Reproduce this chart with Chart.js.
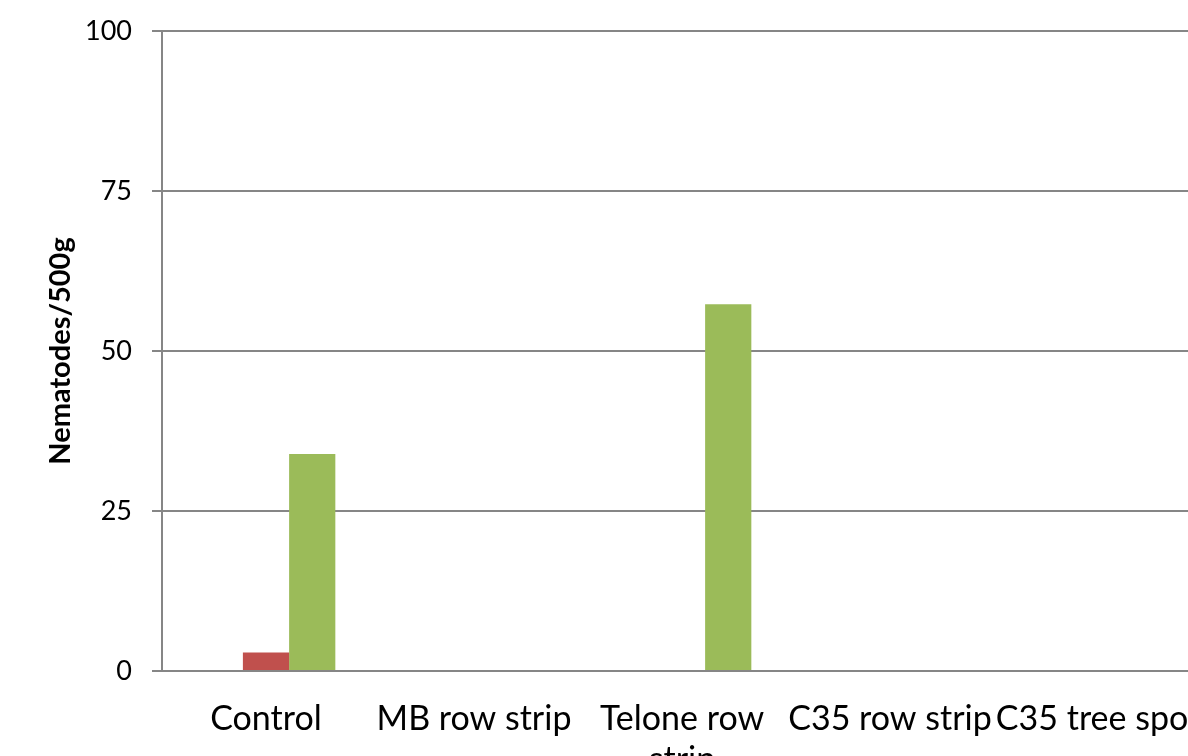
<!DOCTYPE html>
<html>
<head>
<meta charset="utf-8">
<script src="https://cdn.jsdelivr.net/npm/chart.js@4/dist/chart.umd.min.js"></script>
<style>
  html, body { margin: 0; padding: 0; background: #fff; overflow: hidden; }
  #wrap { width: 1202px; height: 756px; }
</style>
</head>
<body>
<div id="wrap"><canvas id="chart" width="1202" height="756"></canvas></div>
<script>
// Treatments along the x axis (multi-line entries wrap onto two rows)
const categories = ['Control', 'MB row strip', ['Telone row', 'strip'], 'C35 row strip', 'C35 tree spot'];

// Nematode counts per 500 g of soil, one array per series
const series1 = [0, 0, 0, 0, 0];
const series2 = [2.9, 0, 0, 0, 0];
const series3 = [33.9, 0, 57.3, 0, 0];

// Value axis
const yMin = 0;
const yMax = 100;
const yStep = 25;
const yTitle = 'Nematodes/500g';

const gridColor = '#868686';
const fontFamily = 'Lato, "Open Sans", sans-serif';

new Chart(document.getElementById('chart'), {
  type: 'bar',
  data: {
    labels: categories,
    datasets: [
      { label: 'Series 1', data: series1, backgroundColor: '#4F81BD' },
      { label: 'Series 2', data: series2, backgroundColor: '#C0504D' },
      { label: 'Series 3', data: series3, backgroundColor: '#9BBB59' }
    ]
  },
  options: {
    responsive: false,
    animation: false,
    layout: { padding: { top: 31, right: 0, left: 0, bottom: 0 } },
    datasets: {
      bar: { categoryPercentage: 3 / 4.5, barPercentage: 1, borderWidth: 0 }
    },
    plugins: {
      legend: { display: false },
      tooltip: { enabled: false }
    },
    scales: {
      x: {
        grid: { display: false, drawTicks: false },
        border: { display: true, color: gridColor, width: 2 },
        ticks: {
          color: '#000',
          font: { family: fontFamily, size: 34 },
          padding: 28,
          maxRotation: 0,
          autoSkip: false
        },
        afterFit(scale) { scale.height = 85; scale.paddingRight = 0; scale.paddingLeft = 0; }
      },
      y: {
        min: yMin,
        max: yMax,
        ticks: {
          stepSize: yStep,
          color: '#000',
          font: { family: fontFamily, size: 27 },
          padding: 20
        },
        grid: { color: gridColor, lineWidth: 2, tickLength: 10 },
        border: { display: true, color: gridColor, width: 2 },
        title: {
          display: true,
          text: yTitle,
          color: '#000',
          font: { family: fontFamily, size: 29, weight: 'bold' },
          padding: { top: 43, bottom: 0 }
        },
        afterFit(scale) { scale.width = 162; scale.paddingTop = 0; scale.paddingBottom = 0; }
      }
    }
  }
});
</script>
</body>
</html>
